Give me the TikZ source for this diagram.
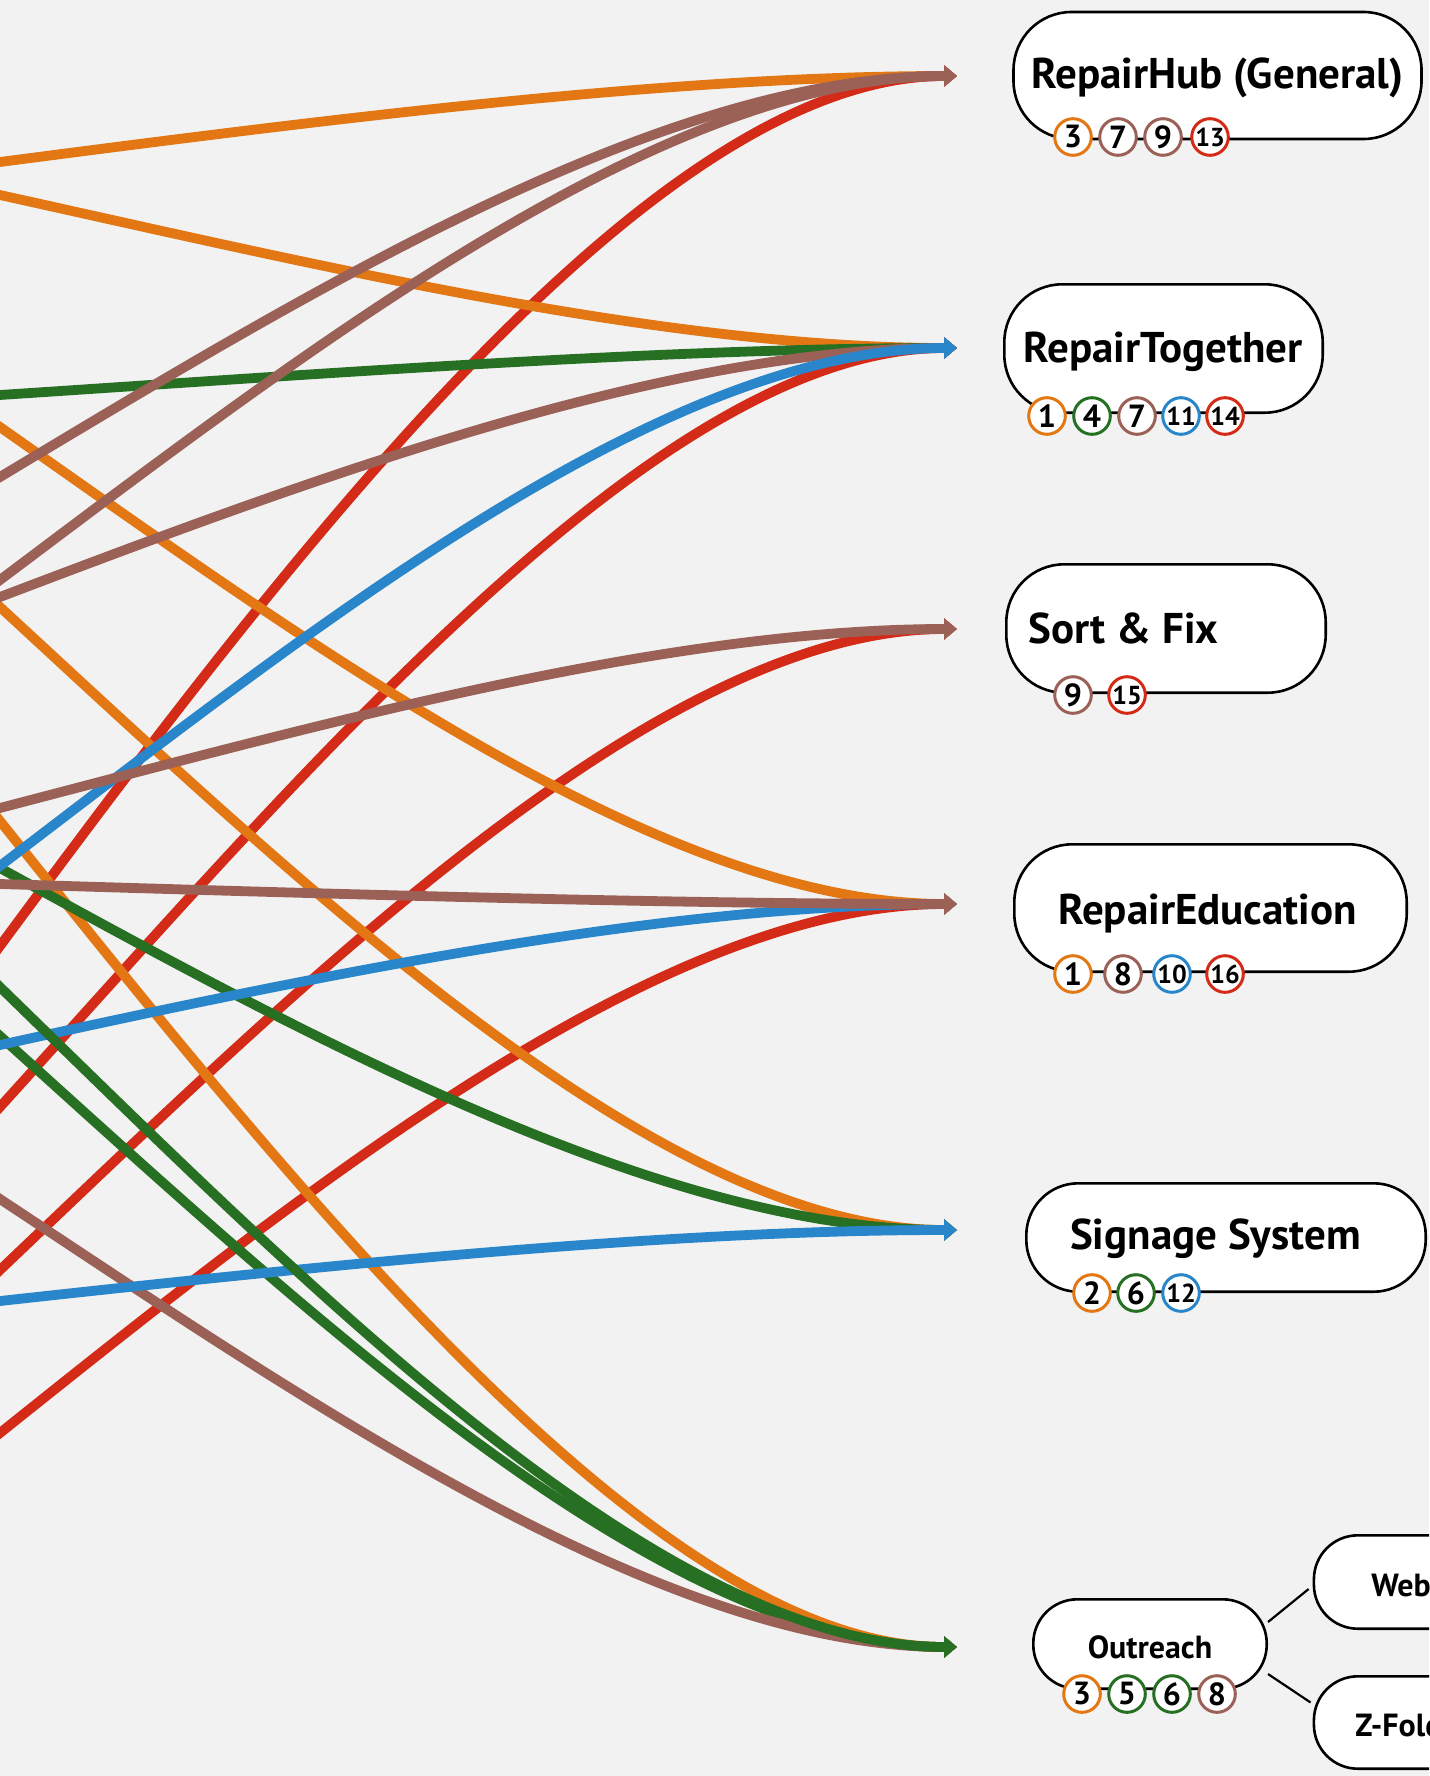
\documentclass[tikz,border=0pt]{standalone}
\usepackage{fontspec}
\setmainfont{PT Sans}
\usetikzlibrary{arrows.meta}

\definecolor{bgc}{HTML}{F2F2F2}
\definecolor{corange}{HTML}{E37714}
\definecolor{cbrown}{HTML}{9B6157}
\definecolor{cred}{HTML}{D42A18}
\definecolor{cgreen}{HTML}{277023}
\definecolor{cblue}{HTML}{2A86CA}

\begin{document}
\begin{tikzpicture}[x=0.5pt, y=-0.5pt,
  curve/.style={line width=4.9pt, -{Triangle[length=6.5pt,width=10.5pt]}},
  box/.style={draw=black, fill=white, line width=1.3pt, rounded corners=29pt, inner sep=0pt},
  smallbox/.style={box, rounded corners=22pt},
  title/.style={font=\fontsize{21.5pt}{24pt}\selectfont\bfseries, inner sep=0pt, anchor=base},
  subtitle/.style={font=\fontsize{16pt}{18pt}\selectfont\bfseries, inner sep=0pt},
  badge/.style={circle, draw=#1, fill=white, line width=1.5pt, minimum size=18.3pt, inner sep=0pt,
                font=\fontsize{16pt}{17pt}\selectfont\bfseries},
  twodigit/.style={font=\fontsize{13pt}{14pt}\selectfont\bfseries},
  link/.style={draw=black, line width=1.1pt}]

\useasboundingbox (0,0) rectangle (1429,1776);
\fill[bgc] (0,0) rectangle (1429,1776);
\clip (0,0) rectangle (1429,1776);

% arrival points at the left of each stop
\coordinate (inHub)  at (957,76);
\coordinate (inTog)  at (957,348);
\coordinate (inSort) at (957,629);
\coordinate (inEdu)  at (957,904);
\coordinate (inSig)  at (957,1230);
\coordinate (inOut)  at (957,1647);

% line origins beyond the left edge
\coordinate (sOHub)  at (-20,164.6);
\coordinate (sOTog)  at (-20,190.6);
\coordinate (sGTog)  at (-20,396.3);
\coordinate (sOEdu)  at (-20,413);
\coordinate (sBHubA) at (-20,489);
\coordinate (sBHubB) at (-20,595);
\coordinate (sBTog)  at (-20,604.6);
\coordinate (sOSig)  at (-20,588.6);
\coordinate (sBSort) at (-20,813.2);
\coordinate (sOOut)  at (-20,796);
\coordinate (sBlTog) at (-20,881.2);
\coordinate (sGSig)  at (-20,857);
\coordinate (sBEdu)  at (-20,883.4);
\coordinate (sRHub)  at (-20,973.2);
\coordinate (sGOutA) at (-20,967.6);
\coordinate (sGOutB) at (-20,1018);
\coordinate (sBlEdu) at (-20,1049.4);
\coordinate (sRTog)  at (-20,1129);
\coordinate (sBOut)  at (-20,1185.8);
\coordinate (sRSort) at (-20,1289);
\coordinate (sBlSig) at (-20,1303.2);
\coordinate (sREdu)  at (-20,1449);

% red lines
\draw[curve, cred] (sRHub)  .. controls +(320,-435.2) and +(-300,0) .. (inHub);
\draw[curve, cred] (sRTog)  .. controls +(320,-352)   and +(-300,0) .. (inTog);
\draw[curve, cred] (sRSort) .. controls +(320,-304)   and +(-300,0) .. (inSort);
\draw[curve, cred] (sREdu)  .. controls +(320,-256)   and +(-300,0) .. (inEdu);
% orange lines
\draw[curve, corange] (sOHub) .. controls +(320,-41.6) and +(-300,0) .. (inHub);
\draw[curve, corange] (sOTog) .. controls +(320,70.4)  and +(-300,0) .. (inTog);
\draw[curve, corange] (sOEdu) .. controls +(320,224)   and +(-300,0) .. (inEdu);
\draw[curve, corange] (sOSig) .. controls +(320,294.4) and +(-300,0) .. (inSig);
\draw[curve, corange] (sOOut) .. controls +(320,400)   and +(-300,0) .. (inOut);
% green lines
\draw[curve, cgreen] (sGTog)  .. controls +(320,-20.8) and +(-300,0) .. (inTog);
\draw[curve, cgreen] (sGSig)  .. controls +(320,176)   and +(-300,0) .. (inSig);
\draw[curve, cgreen] (sGOutB) .. controls +(320,288)   and +(-300,0) .. (inOut);
% brown lines
\draw[curve, cbrown] (sBHubB) .. controls +(320,-240)  and +(-300,0) .. (inHub);
\draw[curve, cbrown] (sBTog)  .. controls +(320,-121.6) and +(-300,0) .. (inTog);
\draw[curve, cbrown] (sBOut)  .. controls +(320,211.2) and +(-300,0) .. (inOut);
% blue lines
\draw[curve, cblue] (sBlEdu) .. controls +(320,-70.4) and +(-300,0) .. (inEdu);
% lines whose tips lie on top at each stop
\draw[curve, cbrown] (sBHubA) .. controls +(320,-192)  and +(-300,0) .. (inHub);
\draw[curve, cblue]  (sBlTog) .. controls +(320,-243.2) and +(-300,0) .. (inTog);
\draw[curve, cbrown] (sBSort) .. controls +(320,-83.2) and +(-300,0) .. (inSort);
\draw[curve, cbrown] (sBEdu)  .. controls +(320,9.6)   and +(-300,0) .. (inEdu);
\draw[curve, cblue]  (sBlSig) .. controls +(320,-35.2) and +(-300,0) .. (inSig);
\draw[curve, cgreen] (sGOutA) .. controls +(320,310.4) and +(-300,0) .. (inOut);

% stop boxes
\node[box, minimum width=204pt, minimum height=63.5pt] (hub)  at (1217.5,75.5) {};
\node[box, minimum width=159.2pt, minimum height=64.2pt] (tog)  at (1163.5,348.5) {};
\node[box, minimum width=159.7pt, minimum height=64.2pt] (sort) at (1166,628.5) {};
\node[box, minimum width=196.2pt, minimum height=63.7pt] (edu)  at (1210.5,908) {};
\node[box, rounded corners=26pt, minimum width=199.7pt, minimum height=54.2pt] (sig) at (1226,1237.5) {};
\node[smallbox, minimum width=116.7pt, minimum height=44.7pt] (out) at (1150,1644) {};
\node[smallbox, minimum width=200pt, minimum height=46.7pt, anchor=west] (web) at (1312.6,1582) {};
\node[smallbox, minimum width=200pt, minimum height=46.2pt, anchor=west] (zfold) at (1312.6,1722.5) {};

% sub-branches of Outreach
\draw[link] ([yshift=11pt]out.east) -- ([xshift=-2pt,yshift=-3.5pt]web.west);
\draw[link] ([yshift=-15pt]out.east) -- ([xshift=-1pt,yshift=10pt]zfold.west);

% stop names
\node[title] (hubt)  at (1217.5,89)  {RepairHub (General)};
\node[title] (togt)  at (1163,362)   {RepairTogether};
\node[title] (sortt) at (1123.5,643) {Sort \& Fix};
\node[title] (edut)  at (1207.5,924) {RepairEducation};
\node[title] (sigt)  at (1215.5,1249) {Signage System};
\node[subtitle, anchor=base] (outt) at (1150,1658) {Outreach};
\node[subtitle, anchor=base west] (webt) at (1371,1596) {Web};
\node[subtitle, anchor=base west] (zfoldt) at (1355,1736) {Z-Fold};

% line badges
\node[badge=corange] (hub3)  at (1073,137) {3};
\node[badge=cbrown]  (hub7)  at (1118,137) {7};
\node[badge=cbrown]  (hub9)  at (1163,137) {9};
\node[badge=cred, twodigit] (hub13) at (1210,137) {13};

\node[badge=corange] (tog1)  at (1047,416) {1};
\node[badge=cgreen]  (tog4)  at (1092,416) {4};
\node[badge=cbrown]  (tog7)  at (1137,416) {7};
\node[badge=cblue, twodigit] (tog11) at (1181,416) {11};
\node[badge=cred, twodigit]  (tog14) at (1225,416) {14};

\node[badge=cbrown] (sort9)  at (1073,695) {9};
\node[badge=cred, twodigit] (sort15) at (1127,695) {15};

\node[badge=corange] (edu1)  at (1073,974) {1};
\node[badge=cbrown]  (edu8)  at (1123,974) {8};
\node[badge=cblue, twodigit] (edu10) at (1172,974) {10};
\node[badge=cred, twodigit]  (edu16) at (1225,974) {16};

\node[badge=corange] (sig2)  at (1092,1293) {2};
\node[badge=cgreen]  (sig6)  at (1136,1293) {6};
\node[badge=cblue, twodigit] (sig12) at (1181,1293) {12};

\node[badge=corange] (out3) at (1082,1694) {3};
\node[badge=cgreen]  (out5) at (1127,1694) {5};
\node[badge=cgreen]  (out6) at (1172,1694) {6};
\node[badge=cbrown]  (out8) at (1217,1694) {8};

\end{tikzpicture}
\end{document}
